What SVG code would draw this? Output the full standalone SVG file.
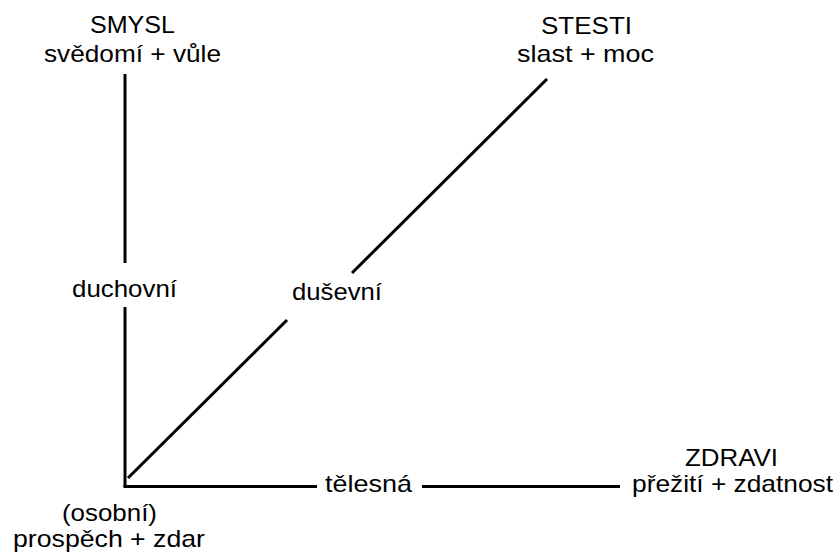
<svg xmlns="http://www.w3.org/2000/svg" width="838" height="555" viewBox="0 0 838 555">
<style>
.t{font-family:"Liberation Sans",Arial,sans-serif;font-size:24px;fill:#000;text-anchor:middle}
.c{stroke:#000;stroke-width:3;fill:none}
</style>
<rect width="838" height="555" fill="#fff"/>
<g id="connectors">
<line class="c" x1="125" y1="74" x2="125" y2="263"/>
<line class="c" x1="125" y1="307" x2="125" y2="487"/>
<line class="c" x1="123.5" y1="486.5" x2="317" y2="486.5"/>
<line class="c" x1="422" y1="486.5" x2="620" y2="486.5"/>
<line class="c" x1="128" y1="478" x2="287" y2="320"/>
<line class="c" x1="352" y1="273" x2="547" y2="79"/>
</g>
<g id="smysl"><text class="t" x="132.5" y="33" textLength="85" lengthAdjust="spacingAndGlyphs">SMYSL</text><text class="t" x="132.5" y="62" textLength="177" lengthAdjust="spacingAndGlyphs">svědomí + vůle</text></g>
<g id="stesti"><text class="t" x="586.5" y="34" textLength="91" lengthAdjust="spacingAndGlyphs">STESTI</text><text class="t" x="585.5" y="62" textLength="137" lengthAdjust="spacingAndGlyphs">slast + moc</text></g>
<g id="duchovni"><text class="t" x="124.5" y="297" textLength="105" lengthAdjust="spacingAndGlyphs">duchovní</text></g>
<g id="dusevni"><text class="t" x="337" y="300" textLength="90" lengthAdjust="spacingAndGlyphs">duševní</text></g>
<g id="telesna"><text class="t" x="368.5" y="492" textLength="87" lengthAdjust="spacingAndGlyphs">tělesná</text></g>
<g id="zdravi"><text class="t" x="731.5" y="466" textLength="93" lengthAdjust="spacingAndGlyphs">ZDRAVI</text><text class="t" x="732.5" y="492" textLength="201" lengthAdjust="spacingAndGlyphs">přežití + zdatnost</text></g>
<g id="osobni"><text class="t" x="109.5" y="521" textLength="95" lengthAdjust="spacingAndGlyphs">(osobní)</text><text class="t" x="109" y="547" textLength="192" lengthAdjust="spacingAndGlyphs">prospěch + zdar</text></g>
</svg>
